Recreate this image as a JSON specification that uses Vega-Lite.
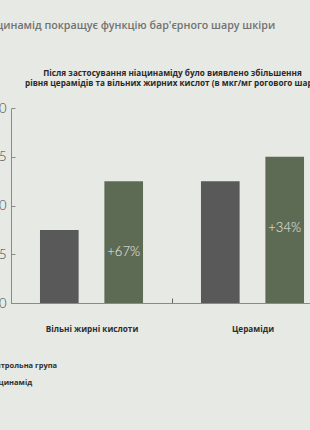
{
  "$schema": "https://vega.github.io/schema/vega-lite/v6.json",
  "autosize": "none",
  "width": 322,
  "height": 195,
  "padding": {"left": 11, "top": 108, "right": 0, "bottom": 127},
  "background": "#e6e9e4",
  "title": {
    "text": "Ніацинамід покращує функцію бар'єрного шару шкіри",
    "anchor": "start",
    "frame": "group",
    "dx": -32,
    "offset": 29,
    "baseline": "alphabetic",
    "font": "Open Sans",
    "fontSize": 10.7,
    "fontWeight": 600,
    "color": "#727272"
  },
  "data": {
    "values": [
      {"group": "Вільні жирні кислоти", "series": "Контрольна група", "value": 0.75, "label": ""},
      {"group": "Вільні жирні кислоти", "series": "Ніацинамід", "value": 1.25, "label": "+67%"},
      {"group": "Цераміди", "series": "Контрольна група", "value": 1.25, "label": ""},
      {"group": "Цераміди", "series": "Ніацинамід", "value": 1.5, "label": "+34%"}
    ]
  },
  "encoding": {
    "x": {
      "field": "group",
      "type": "nominal",
      "sort": ["Вільні жирні кислоти", "Цераміди"],
      "scale": {"paddingInner": 0, "paddingOuter": 0},
      "axis": {
        "title": null,
        "labelAngle": 0,
        "labelFont": "Open Sans",
        "labelFontSize": 8.2,
        "labelFontWeight": "bold",
        "labelColor": "#2e2e2e",
        "labelPadding": 27,
        "tickBand": "extent",
        "tickSize": -5,
        "tickColor": "#666666",
        "domainColor": "#8a8a8a",
        "grid": false
      }
    },
    "xOffset": {
      "field": "series",
      "type": "nominal",
      "scale": {"paddingInner": 0.4, "paddingOuter": 0.45}
    },
    "y": {
      "field": "value",
      "type": "quantitative",
      "scale": {"domain": [0, 2]},
      "axis": {
        "title": ["Після застосування ніацинаміду було виявлено збільшення", "рівня церамідів та вільних жирних кислот (в мкг/мг рогового шару)"],
        "titleAngle": 0,
        "titleX": 161,
        "titleY": -32.7,
        "titleAlign": "center",
        "titleBaseline": "alphabetic",
        "titleFont": "Open Sans",
        "titleFontSize": 8.2,
        "titleFontWeight": "bold",
        "titleColor": "#2a2a2a",
        "titleLineHeight": 9.8,
        "values": [0, 0.5, 1, 1.5, 2],
        "labelFont": "Lato",
        "labelFontSize": 13,
        "labelFontWeight": 300,
        "labelColor": "#404040",
        "tickSize": -4,
        "labelPadding": 9,
        "tickColor": "#8a8a8a",
        "domainColor": "#8a8a8a",
        "grid": false
      }
    }
  },
  "layer": [
    {
      "mark": {"type": "bar"},
      "encoding": {
        "color": {
          "field": "series",
          "type": "nominal",
          "scale": {"domain": ["Контрольна група", "Ніацинамід"], "range": ["#595959", "#5e6b54"]},
          "legend": {
            "title": null,
            "orient": "none",
            "legendX": -41,
            "legendY": 253,
            "direction": "vertical",
            "symbolType": "square",
            "symbolSize": 100,
            "symbolStrokeWidth": 0,
            "labelFont": "Open Sans",
            "labelFontSize": 7.5,
            "labelFontWeight": "bold",
            "labelColor": "#2e2e2e",
            "labelOffset": 6,
            "rowPadding": 6.5
          }
        }
      }
    },
    {
      "mark": {"type": "text", "dy": 71, "baseline": "middle", "font": "Lato", "fontSize": 13, "fontWeight": 300, "color": "#eef0ea"},
      "encoding": {
        "text": {"field": "label"}
      }
    }
  ],
  "config": {
    "view": {"stroke": null}
  }
}
